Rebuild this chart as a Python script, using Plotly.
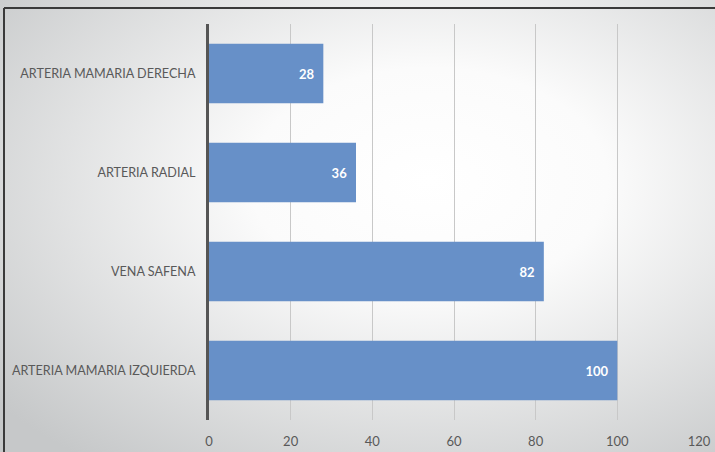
import plotly.graph_objects as go

categories = ["ARTERIA MAMARIA DERECHA", "ARTERIA RADIAL", "VENA SAFENA", "ARTERIA MAMARIA IZQUIERDA"]
values = [28, 36, 82, 100]
x_ticks = [0, 20, 40, 60, 80, 100, 120]

W, H = 715, 452
ML, MR, MT, MB = 209, 16, 24, 32
pw, ph = W - ML - MR, H - MT - MB

fig = go.Figure(go.Bar(
    y=categories, x=values, orientation="h",
    marker=dict(color="#6790c8", line=dict(width=0)),
    width=0.6,
    text=values, texttemplate="%{text}  ", textposition="inside", insidetextanchor="end",
    textfont=dict(color="white", size=13, family="Lato", weight="bold"),
))

bx0 = (4 - ML) / pw
by1 = 1 + (MT - 8) / ph
fig.update_layout(
    width=W, height=H,
    margin=dict(l=ML, r=MR, t=MT, b=MB, autoexpand=False),
    paper_bgcolor="rgba(0,0,0,0)", plot_bgcolor="rgba(0,0,0,0)",
    showlegend=False,
    font=dict(family="Lato", size=13, color="#595959"),
    shapes=[
        dict(type="line", xref="paper", yref="paper", x0=bx0, x1=(W - ML) / pw, y0=by1, y1=by1,
             line=dict(color="#3a3a3a", width=2)),
        dict(type="line", xref="paper", yref="paper", x0=bx0, x1=bx0, y0=by1, y1=-MB / ph,
             line=dict(color="#3a3a3a", width=2)),
    ],
)
fig.update_xaxes(range=[0, 120], tickvals=x_ticks, showgrid=True, gridcolor="#c8c8c8",
                 gridwidth=1, zeroline=False, showline=False, ticklabelstandoff=12,
                 automargin=False,
                 tickfont=dict(size=13, color="#595959"), fixedrange=True)
fig.update_yaxes(autorange="reversed", showgrid=False, zeroline=False,
                 showline=True, linecolor="#555555", linewidth=3, automargin=False,
                 ticklabelstandoff=8, tickfont=dict(size=12.6, color="#595959"))

bg_js = (
    "var d=document.querySelector('.plotly-graph-div');"
    "d.style.background='radial-gradient(ellipse 78% 78% at 60% 40%, #ffffff 0%, #fbfbfb 32%, #c6c8c9 100%)';"
    "document.body.style.margin='0';"
)
fig.write_html("out.html", config={"displayModeBar": False}, post_script=bg_js)
